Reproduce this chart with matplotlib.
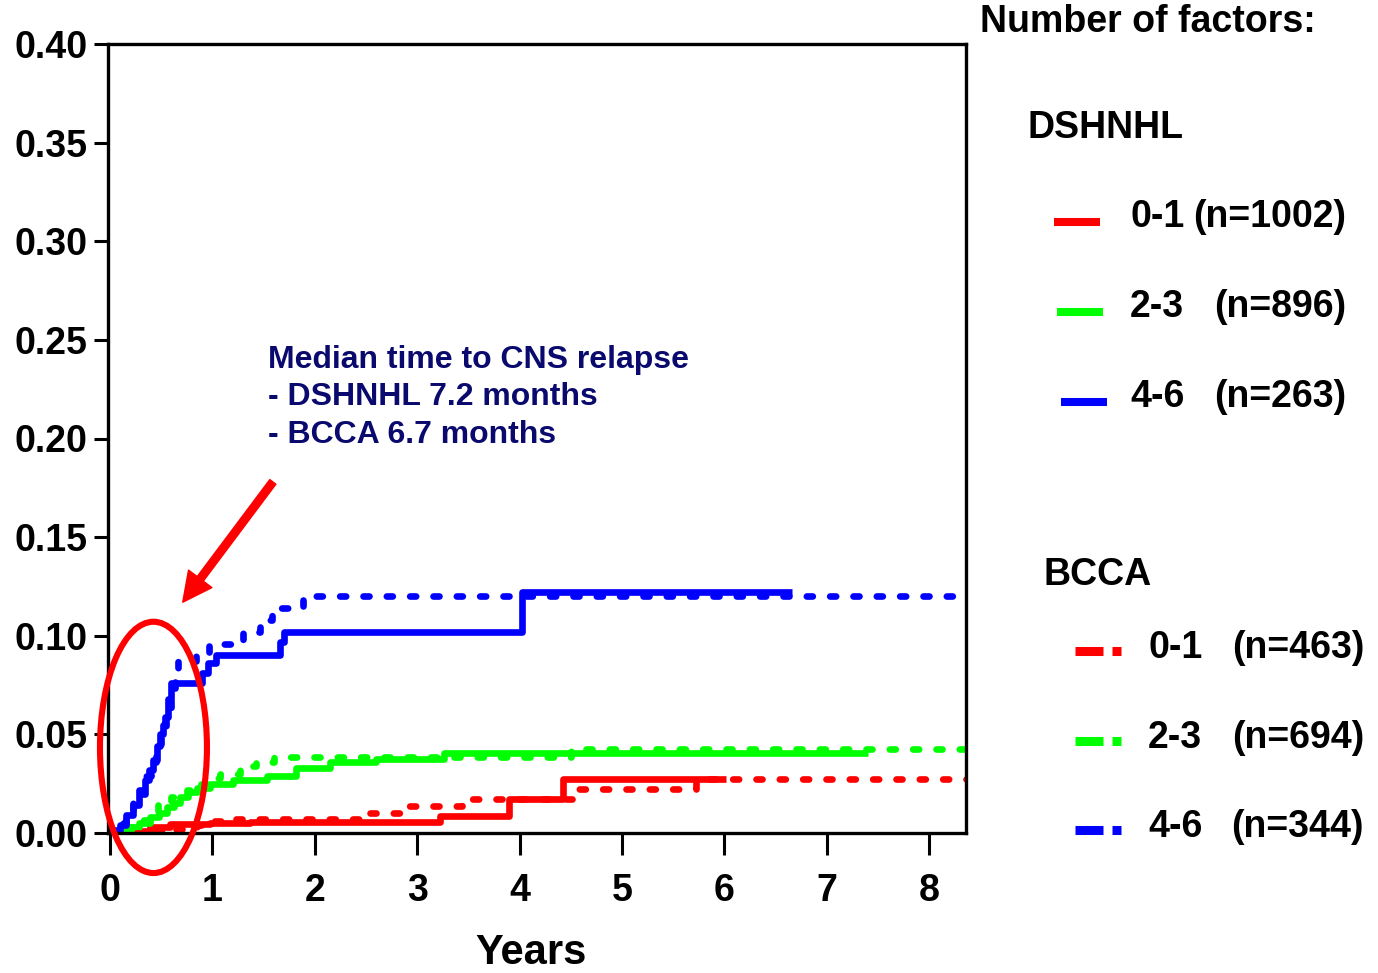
import numpy as np
import matplotlib
matplotlib.use("Agg")
import matplotlib.pyplot as plt
from matplotlib.lines import Line2D
from matplotlib.patches import Ellipse

# =========================================================
# DATA (step changes: time in years)
# =========================================================

# DSHNHL 0-1 (solid red)
dsh01_t = [0, 0.20, 0.39, 0.59, 0.98, 1.37, 3.22, 3.90, 4.42, 6.02]
dsh01_y = [0, 0.001, 0.003, 0.0045, 0.005, 0.0056, 0.0085, 0.0173, 0.0274, 0.0274]

# DSHNHL 2-3 (solid green)
dsh23_t = [0, 0.08, 0.16, 0.28, 0.39, 0.48, 0.56, 0.62, 0.68, 0.76, 0.85,
           0.98, 1.20, 1.53, 1.82, 2.15, 2.60, 3.26, 7.40]
dsh23_y = [0, 0.001, 0.003, 0.005, 0.008, 0.010, 0.013, 0.015, 0.018, 0.021, 0.023,
           0.025, 0.027, 0.029, 0.033, 0.036, 0.0375, 0.0405, 0.0405]

# DSHNHL 4-6 (solid blue)
dsh46_t = [0, 0.05, 0.10, 0.16, 0.22, 0.28, 0.34, 0.38, 0.42, 0.46, 0.49,
           0.52, 0.54, 0.57, 0.60, 0.90, 0.96, 1.03, 1.66, 1.70, 4.02, 6.66]
dsh46_y = [0, 0.0015, 0.004, 0.009, 0.014, 0.020, 0.027, 0.032, 0.037, 0.044, 0.050,
           0.055, 0.059, 0.068, 0.076, 0.081, 0.086, 0.090, 0.097, 0.102, 0.122, 0.122]

# BCCA 0-1 (dotted red)
bc01_t = [0, 0.40, 0.60, 0.85, 1.00, 1.20, 2.47, 2.83, 3.44, 4.58, 5.72, 8.40]
bc01_y = [0, 0.0005, 0.002, 0.004, 0.006, 0.0072, 0.010, 0.0137, 0.017, 0.0223, 0.0274, 0.0274]

# BCCA 2-3 (dotted green)
bc23_t = [0, 0.10, 0.20, 0.32, 0.40, 0.47, 0.55, 0.60, 0.68, 0.75, 0.88,
          1.00, 1.07, 1.27, 1.43, 1.60, 4.50, 8.40]
bc23_y = [0, 0.001, 0.003, 0.0066, 0.010, 0.014, 0.016, 0.018, 0.020, 0.022, 0.025,
          0.028, 0.030, 0.034, 0.036, 0.0386, 0.0427, 0.0427]

# BCCA 4-6 (dotted blue)
bc46_t = [0, 0.05, 0.10, 0.16, 0.22, 0.28, 0.34, 0.40, 0.45, 0.50, 0.55,
          0.60, 0.63, 0.66, 0.84, 0.97, 1.30, 1.46, 1.58, 1.88, 8.40]
bc46_y = [0, 0.002, 0.005, 0.010, 0.016, 0.022, 0.029, 0.036, 0.044, 0.052, 0.062,
          0.072, 0.079, 0.087, 0.091, 0.096, 0.102, 0.108, 0.114, 0.120, 0.120]

year_ticks = [0, 1, 2, 3, 4, 5, 6, 7, 8]
y_ticks = [0.00, 0.05, 0.10, 0.15, 0.20, 0.25, 0.30, 0.35, 0.40]

dsh_labels = [("0-1", "(n=1002)"), ("2-3", "(n=896)"), ("4-6", "(n=263)")]
bcca_labels = [("0-1", "(n=463)"), ("2-3", "(n=694)"), ("4-6", "(n=344)")]
group_colors = ["#ff0000", "#00ff00", "#0000ff"]

# =========================================================
# STYLE
# =========================================================

plt.rcParams["font.family"] = ["Liberation Sans", "DejaVu Sans"]
plt.rcParams["font.weight"] = "bold"

W, H = 1378, 973
fig = plt.figure(figsize=(W / 100, H / 100), dpi=100)


def px(x, y):
    # pixel position -> figure fraction
    return x / W, 1 - y / H


ax = fig.add_axes([108 / W, 1 - 833 / H, (966 - 108) / W, (833 - 44) / H])

dot_style = (0, (0.9, 2.6))
lw = 4.8

# =========================================================
# CURVES
# =========================================================

curves = [
    (dsh01_t, dsh01_y, group_colors[0], "-"),
    (dsh23_t, dsh23_y, group_colors[1], "-"),
    (bc01_t, bc01_y, group_colors[0], dot_style),
    (bc23_t, bc23_y, group_colors[1], dot_style),
    (bc46_t, bc46_y, group_colors[2], dot_style),
    (dsh46_t, dsh46_y, group_colors[2], "-"),
]

for t, y, c, ls in curves:
    ax.plot(t, y, drawstyle="steps-post", color=c, linestyle=ls,
            linewidth=lw, dash_capstyle="round", solid_capstyle="butt")

ax.set_xlim(-0.02, 8.36)
ax.set_ylim(0, 0.40)

ax.set_xticks(year_ticks)
ax.set_xticklabels([str(v) for v in year_ticks], fontsize=27, fontweight="bold")
ax.set_yticks(y_ticks)
ax.set_yticklabels([f"{v:.2f}" for v in y_ticks], fontsize=27, fontweight="bold")

ax.tick_params(axis="x", direction="out", length=16, width=2.2, pad=13)
ax.tick_params(axis="y", direction="out", length=10, width=2.2, pad=5)

for s in ax.spines.values():
    s.set_linewidth(2.4)

ax.set_xlabel("Years", fontsize=30, fontweight="bold")
ax.xaxis.set_label_coords(0.493, -0.127)

# =========================================================
# ANNOTATIONS
# =========================================================

ax.add_patch(Ellipse((0.424, 0.0434), 1.045, 0.1274, fill=False,
                     edgecolor="#ff0000", linewidth=4.4, clip_on=False, zorder=5))

ax.annotate("", xy=(0.71, 0.117), xytext=(1.59, 0.178),
            arrowprops=dict(facecolor="#ff0000", edgecolor="#ff0000",
                            width=5.5, headwidth=21, headlength=21, shrink=0))

ax.text(1.54, 0.2208,
        "Median time to CNS relapse\n- DSHNHL 7.2 months\n- BCCA 6.7 months",
        color="#0a0a6e", fontsize=23, fontweight="bold",
        ha="left", va="center", linespacing=1.33)

# =========================================================
# LEGEND (drawn by hand, outside the axes)
# =========================================================

fig.text(*px(980, 22), "Number of factors:", fontsize=27, fontweight="bold",
         ha="left", va="center")
fig.text(*px(1028, 128), "DSHNHL", fontsize=27, fontweight="bold",
         ha="left", va="center")
fig.text(*px(1043, 575), "BCCA", fontsize=27, fontweight="bold",
         ha="left", va="center")

dsh_rows = [217, 307, 397]
dsh_x0 = [1054, 1057, 1061]
for (grp, n), yy, x0, c in zip(dsh_labels, dsh_rows, dsh_x0, group_colors):
    x1, y1 = px(x0, yy + 5)
    x2, _ = px(x0 + 46, yy + 5)
    fig.add_artist(Line2D([x1, x2], [y1, y1], color=c, linewidth=5.8,
                          solid_capstyle="butt"))
    fig.text(*px(1130, yy), grp, fontsize=27, fontweight="bold",
             ha="left", va="center")
    fig.text(*px(1346, yy), n, fontsize=27, fontweight="bold",
             ha="right", va="center")

bcca_rows = [648, 738, 827]
for (grp, n), yy, c in zip(bcca_labels, bcca_rows, group_colors):
    ya = px(0, yy + 3)[1]
    fig.add_artist(Line2D([px(1075, 0)[0], px(1103, 0)[0]], [ya, ya], color=c,
                          linewidth=6.5, solid_capstyle="butt"))
    fig.add_artist(Line2D([px(1112, 0)[0], px(1121, 0)[0]], [ya, ya], color=c,
                          linewidth=6.5, solid_capstyle="butt"))
    fig.text(*px(1148, yy), grp, fontsize=27, fontweight="bold",
             ha="left", va="center")
    fig.text(*px(1364, yy), n, fontsize=27, fontweight="bold",
             ha="right", va="center")

fig.savefig("out.png", dpi=100)
